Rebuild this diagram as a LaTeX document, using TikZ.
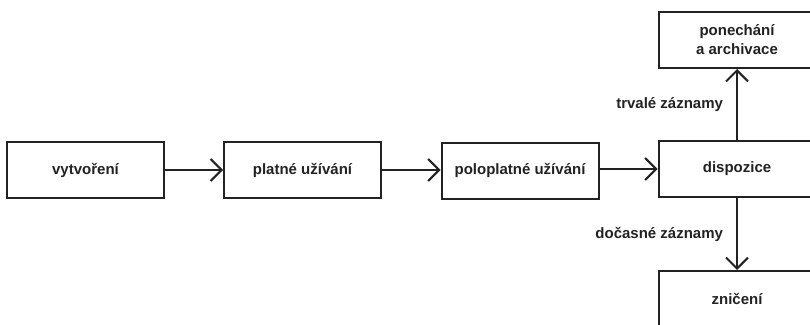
\documentclass[tikz,border=0pt]{standalone}
\usepackage{fontspec}
\setmainfont{Liberation Sans}
\usetikzlibrary{arrows.meta}
\definecolor{ink}{HTML}{222222}
\tikzset{
  stage/.style={draw=ink, line width=2pt, minimum width=157pt, minimum height=56pt,
    inner sep=0pt, align=center, font=\bfseries\fontsize{15}{19}\selectfont, text=ink},
  flow/.style={draw=ink, line width=2pt, -{Straight Barb[length=11pt, width=22pt, line width=2pt]}},
  flowlabel/.style={font=\bfseries\fontsize{15}{19}\selectfont, text=ink, inner sep=0pt}
}
\begin{document}
\begin{tikzpicture}[x=1pt, y=-1pt]
  \useasboundingbox (0,0) rectangle (810,324);
  \node[stage] (vyt) at (85.5,170) {vytvoření};
  \node[stage] (plat) at (302.5,170) {platné užívání};
  \node[stage] (polo) at (520,170.5) {poloplatné užívání};
  \node[stage] (disp) at (737,169) {dispozice};
  \node[stage] (arch) at (737,40) {ponechání\\a archivace};
  \node[stage] (zni) at (737,299) {zničení};
  \draw[flow] (vyt) -- (plat);
  \draw[flow] (plat.east) -- (polo.west |- plat.east);
  \draw[flow] (polo.east |- disp.west) -- (disp.west);
  \draw[flow] (disp) -- node[flowlabel, anchor=east, pos=0.5, xshift=-13pt] (trv) {trvalé záznamy} (arch);
  \draw[flow] (disp) -- node[flowlabel, anchor=east, pos=0.5, xshift=-13pt] (doc) {dočasné záznamy} (zni);
\end{tikzpicture}
\end{document}
